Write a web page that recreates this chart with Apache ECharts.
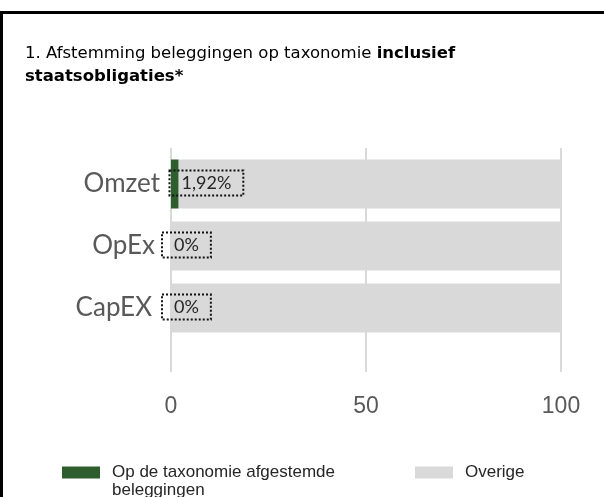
<!DOCTYPE html>
<html>
<head>
<meta charset="utf-8">
<script src="https://cdn.jsdelivr.net/npm/echarts@6/dist/echarts.min.js"></script>
<style>
    html, body { margin: 0; padding: 0; background: #fff; }
    #wrap { position: relative; width: 604px; height: 497px; overflow: hidden; }
    #frame { position: absolute; left: 0; top: 11px; width: 700px; height: 600px; border: 3px solid #000; box-sizing: border-box; pointer-events: none; }
    #chart { position: absolute; left: 0; top: 0; width: 604px; height: 497px; }
</style>
</head>
<body>
<div id="wrap">
    <div id="chart"></div>
    <div id="frame"></div>
</div>
<script>
const categories = ['Omzet', 'OpEx', 'CapEX'];
const aligned = [1.92, 0, 0];
const other = [98.08, 100, 100];
const alignedLabels = ['1,92%', '0%', '0%'];
const xTicks = [0, 50, 100];

const legendText = { fontFamily: 'Liberation Sans', fontSize: 17, color: '#262626', lineHeight: 19, padding: [0, 0, 0, 7] };
const catLabel = { color: '#595959', fontFamily: 'Lato', fontSize: 26 };

const chart = echarts.init(document.getElementById('chart'));
chart.setOption({
    animation: false,
    title: [
        {
            left: 20,
            top: 37,
            text: '1. Afstemming beleggingen op taxonomie {b|inclusief}\n{b|staatsobligaties*}',
            textStyle: {
                fontFamily: 'DejaVu Sans',
                fontSize: 16.5,
                fontWeight: 'normal',
                color: '#000',
                lineHeight: 23,
                rich: {
                    b: { fontFamily: 'DejaVu Sans', fontSize: 16.5, fontWeight: 'bold', color: '#000', lineHeight: 23 }
                }
            }
        },
        {
            // second line of the first legend entry
            left: 112, top: 481, padding: 0,
            text: 'beleggingen',
            textStyle: { fontFamily: 'Liberation Sans', fontSize: 17, fontWeight: 'normal', color: '#262626', lineHeight: 19 }
        }
    ],
    grid: [
        { left: 171, right: 43, top: 153, bottom: 158 },
        { left: 171, right: 43, top: 148, bottom: 125 }
    ],
    xAxis: [
        {
            gridIndex: 0, type: 'value', min: 0, max: 100, interval: 50,
            axisLine: { show: false }, axisTick: { show: false },
            axisLabel: { show: false }, splitLine: { show: false }
        },
        {
            gridIndex: 1, type: 'value', min: 0, max: 100, interval: 50,
            axisLine: { show: false }, axisTick: { show: false },
            axisLabel: {
                margin: 23, color: '#595959', fontFamily: 'Liberation Sans', fontSize: 23,
                formatter: v => xTicks.includes(v) ? String(v) : ''
            },
            splitLine: { show: true, lineStyle: { color: '#d9d9d9', width: 2 } }
        }
    ],
    yAxis: [
        {
            gridIndex: 0, type: 'category', data: categories, inverse: true,
            axisLine: { show: false }, axisTick: { show: false },
            axisLabel: {
                margin: 11,
                formatter: (v, i) => '{c' + i + '|' + v + '}',
                rich: {
                    c0: Object.assign({ padding: [0, 0, 0, 0] }, catLabel),
                    c1: Object.assign({ padding: [0, 5, 0, 0] }, catLabel),
                    c2: Object.assign({ padding: [0, 8, 0, 0] }, catLabel)
                }
            }
        },
        {
            gridIndex: 1, type: 'category', data: categories, show: false
        }
    ],
    legend: [
        {
            left: 62, top: 463, padding: 0, itemWidth: 38, itemHeight: 12, icon: 'rect',
            data: ['Op de taxonomie afgestemde beleggingen'],
            formatter: () => 'Op de taxonomie afgestemde',
            textStyle: legendText
        },
        {
            left: 415, top: 463, padding: 0, itemWidth: 38, itemHeight: 12, icon: 'rect',
            data: ['Overige'],
            textStyle: legendText
        }
    ],
    series: [
        {
            name: 'Op de taxonomie afgestemde beleggingen',
            type: 'bar', stack: 'total', xAxisIndex: 0, yAxisIndex: 0,
            data: aligned, barWidth: 49,
            itemStyle: { color: '#2e5e2e' },
            label: {
                show: true, position: 'right', distance: 0, offset: [-9, -1],
                formatter: p => alignedLabels[p.dataIndex],
                fontFamily: 'Lato', fontSize: 18, color: '#262626',
                borderColor: '#111', borderWidth: 2, borderType: [2, 2],
                padding: [4, 12, 3, 12]
            },
            z: 3
        },
        {
            name: 'Overige',
            type: 'bar', stack: 'total', xAxisIndex: 0, yAxisIndex: 0,
            data: other, barWidth: 49,
            itemStyle: { color: '#d9d9d9' },
            z: 2
        }
    ]
});
</script>
</body>
</html>
